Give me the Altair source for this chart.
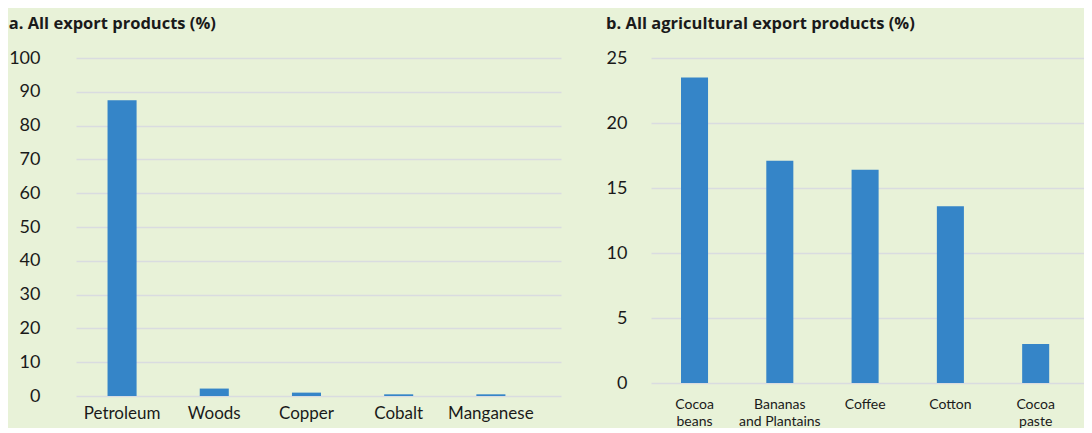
import altair as alt
import pandas as pd

cats_a = ["Petroleum", "Woods", "Copper", "Cobalt", "Manganese"]
vals_a = [87.5, 2.2, 1.0, 0.5, 0.5]
ticks_a = [0, 10, 20, 30, 40, 50, 60, 70, 80, 90, 100]

cats_b = ["Cocoa beans", "Bananas and Plantains", "Coffee", "Cotton", "Cocoa paste"]
vals_b = [23.5, 17.1, 16.4, 13.6, 3.0]
label_lines_b = [["Cocoa", "beans"], ["Bananas", "and Plantains"], ["Coffee"], ["Cotton"], ["Cocoa", "paste"]]
ticks_b = [0, 5, 10, 15, 20, 25]

title_a = "a. All export products (%)"
title_b = "b. All agricultural export products (%)"

BG = "#E8F2D8"
BAR = "#3585C8"
GRID = "#D9DCE0"
TXT = "#1A1A1A"
FONT = "Lato"
TFONT = "Open Sans"

df_a = pd.DataFrame({"cat": cats_a, "val": vals_a})
df_b = pd.DataFrame({"cat": cats_b, "val": vals_b})

expr_b = ""
for c, lines in zip(cats_b, label_lines_b):
    arr = "[" + ",".join("'" + s + "'" for s in lines) + "]"
    expr_b += "datum.value == '" + c + "' ? " + arr + " : "
expr_b += "datum.label"

def ttl(text):
    return alt.TitleParams(text, anchor="start", frame="bounds", fontSize=16.5,
                           fontWeight="bold", font=TFONT, color=TXT, offset=17)

a = alt.Chart(df_a).mark_bar(color=BAR).encode(
    x=alt.X("cat:N", sort=cats_a,
            scale=alt.Scale(paddingInner=0.685, paddingOuter=0.4725, align=0.362),
            axis=alt.Axis(title=None, labelAngle=0, labelFontSize=17, labelPadding=9,
                          ticks=False, domain=False, grid=False, labelFont=FONT,
                          labelColor=TXT)),
    y=alt.Y("val:Q", scale=alt.Scale(domain=[0, 100]),
            axis=alt.Axis(title=None, values=ticks_a, labelFontSize=18, labelPadding=36,
                          ticks=False, domain=False, gridColor=GRID, gridWidth=1.5,
                          labelFont=FONT, labelColor=TXT)),
).properties(width=485, height=338, title=ttl(title_a))

b = alt.Chart(df_b).mark_bar(color=BAR).encode(
    x=alt.X("cat:N", sort=cats_b,
            scale=alt.Scale(paddingInner=0.683, paddingOuter=0.38, align=0.463),
            axis=alt.Axis(title=None, labelAngle=0, labelFontSize=14, labelPadding=14,
                          ticks=False, domain=False, grid=False, labelExpr=expr_b,
                          labelFont=FONT, labelColor=TXT, labelLineHeight=17,
                          labelBaseline="top")),
    y=alt.Y("val:Q", scale=alt.Scale(domain=[0, 25]),
            axis=alt.Axis(title=None, values=ticks_b, labelFontSize=18, labelPadding=24,
                          ticks=False, domain=False, gridColor=GRID, gridWidth=1.5,
                          labelFont=FONT, labelColor=TXT)),
).properties(width=433, height=325, title=ttl(title_b))

chart = alt.hconcat(a, b, spacing=45).properties(
    background=BG,
    padding={"left": 0, "top": 7, "right": 0, "bottom": 0},
).configure_view(stroke=None)

chart.save("out.html", embed_options={"renderer": "svg", "actions": False})
